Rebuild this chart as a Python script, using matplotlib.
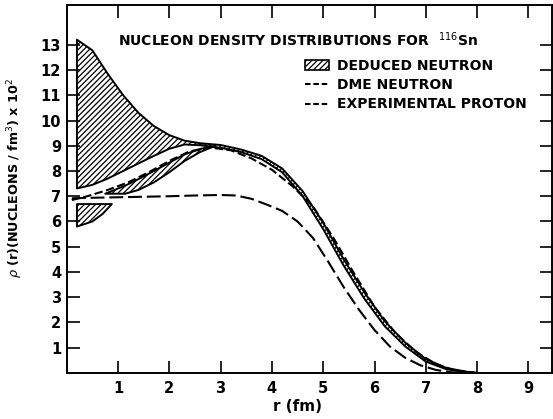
import numpy as np
import matplotlib
matplotlib.use("Agg")
from matplotlib import pyplot as plt
from matplotlib.patches import Patch
from matplotlib.lines import Line2D

plt.rcParams['font.family'] = ['DejaVu Sans']
plt.rcParams['lines.scale_dashes'] = False
plt.rcParams['hatch.linewidth'] = 0.9

# deduced neutron band (upper / lower edge of the main hatched region)
r_band = [0.2, 0.5, 0.8, 1.1, 1.4, 1.7, 2.0, 2.3, 2.6, 3.0, 3.4, 3.8, 4.2,
          4.6, 5.0, 5.4, 5.8, 6.2, 6.6, 7.0, 7.4, 7.8, 8.0]
band_hi = [13.2, 12.78, 11.85, 11.0, 10.3, 9.78, 9.42, 9.2, 9.1, 9.03, 8.85,
           8.6, 8.1, 7.2, 5.95, 4.5, 3.2, 2.05, 1.2, 0.55, 0.2, 0.05, 0.0]
band_lo = [7.31, 7.45, 7.7, 8.0, 8.3, 8.6, 8.88, 9.05, 9.02, 8.92, 8.75,
           8.47, 7.95, 7.0, 5.7, 4.25, 2.95, 1.85, 1.05, 0.45, 0.15, 0.03, 0.0]

# thin hatched sliver under the DME line
r_sliver = [0.75, 1.14, 1.4, 1.7, 2.0, 2.3, 2.6, 2.9]
sliver_lo = [7.1, 7.1, 7.25, 7.55, 7.95, 8.4, 8.75, 9.0]
sliver_hi = [7.1, 7.42, 7.68, 8.0, 8.33, 8.66, 8.87, 9.0]

# small hatched piece below the proton line
r_tri = [0.2, 0.5, 0.7, 0.88]
tri_lo = [5.8, 6.0, 6.3, 6.69]
tri_hi = [6.69, 6.69, 6.69, 6.69]

# DME neutron
r_dme = [0.1, 0.4, 0.8, 1.2, 1.6, 2.0, 2.4, 2.8, 3.2, 3.6, 4.0, 4.4, 4.8,
         5.2, 5.6, 6.0, 6.4, 6.8, 7.2, 7.6, 8.0]
rho_dme = [6.85, 7.0, 7.25, 7.55, 7.95, 8.4, 8.78, 8.93, 8.82, 8.5, 8.05,
           7.4, 6.6, 5.35, 3.95, 2.62, 1.6, 0.85, 0.35, 0.08, 0.0]

# experimental proton
r_p = [0.1, 0.5, 1.0, 1.5, 2.0, 2.5, 3.0, 3.3, 3.6, 3.9, 4.2, 4.5, 4.8,
       5.1, 5.4, 5.7, 6.0, 6.3, 6.6, 6.9, 7.2, 7.5, 8.0]
rho_p = [6.92, 6.94, 6.96, 6.98, 7.0, 7.03, 7.05, 7.03, 6.9, 6.67, 6.42,
         6.0, 5.35, 4.4, 3.4, 2.5, 1.7, 1.05, 0.6, 0.3, 0.12, 0.03, 0.0]

xticks = [1, 2, 3, 4, 5, 6, 7, 8, 9]
yticks = [1, 2, 3, 4, 5, 6, 7, 8, 9, 10, 11, 12, 13]

fig = plt.figure(figsize=(5.53, 4.19), dpi=100)
ax = fig.add_axes([0.1206, 0.1098, 0.8776, 0.878])

hatch_kw = dict(facecolor='white', edgecolor='black', hatch='//////', linewidth=1.4)
ax.fill_between(r_band, band_lo, band_hi, **hatch_kw)
ax.fill_between(r_sliver, sliver_lo, sliver_hi, **hatch_kw)
ax.fill_between(r_tri, tri_lo, tri_hi, **hatch_kw)

ax.plot(r_dme, rho_dme, color='black', lw=1.5, dashes=(6, 2.5))
ax.plot(r_p, rho_p, color='black', lw=1.5, dashes=(10, 3.5))

ax.set_xlim(0, 9.46)
ax.set_ylim(0, 14.57)
ax.set_xticks(xticks)
ax.set_yticks(yticks)
ax.tick_params(direction='in', length=9, width=1.2, top=True, right=True,
               labelsize=10.5, pad=4)
ax.tick_params(axis='x', pad=6)
for lab in ax.get_xticklabels() + ax.get_yticklabels():
    lab.set_fontweight('bold')
for s in ax.spines.values():
    s.set_linewidth(1.4)

ax.text(1.0, 13.19, r'NUCLEON DENSITY DISTRIBUTIONS FOR  $^{116}$Sn',
        fontsize=10, fontweight='bold', va='center', ha='left')

handles = [Patch(facecolor='white', edgecolor='black', hatch='//////', lw=1.2),
           Line2D([], [], color='black', lw=1.5, dashes=(4, 2)),
           Line2D([], [], color='black', lw=1.5, dashes=(4, 2))]
labels = ['DEDUCED NEUTRON', 'DME NEUTRON', 'EXPERIMENTAL PROTON']
ax.legend(handles, labels, loc='upper left', bbox_to_anchor=(0.466, 0.888),
          frameon=False, handlelength=1.7, handletextpad=0.6, labelspacing=0.38,
          prop={'size': 10, 'weight': 'bold'})

ax.set_xlabel('r (fm)', fontsize=11, fontweight='bold')
ax.xaxis.set_label_coords(0.475, -0.07)
ax.set_ylabel(r'$\rho$ (r)(NUCLEONS / fm$^3$) x 10$^2$', fontsize=9.2,
              fontweight='bold')
ax.yaxis.set_label_coords(-0.085, 0.53)

fig.savefig('out.png', dpi=100)
